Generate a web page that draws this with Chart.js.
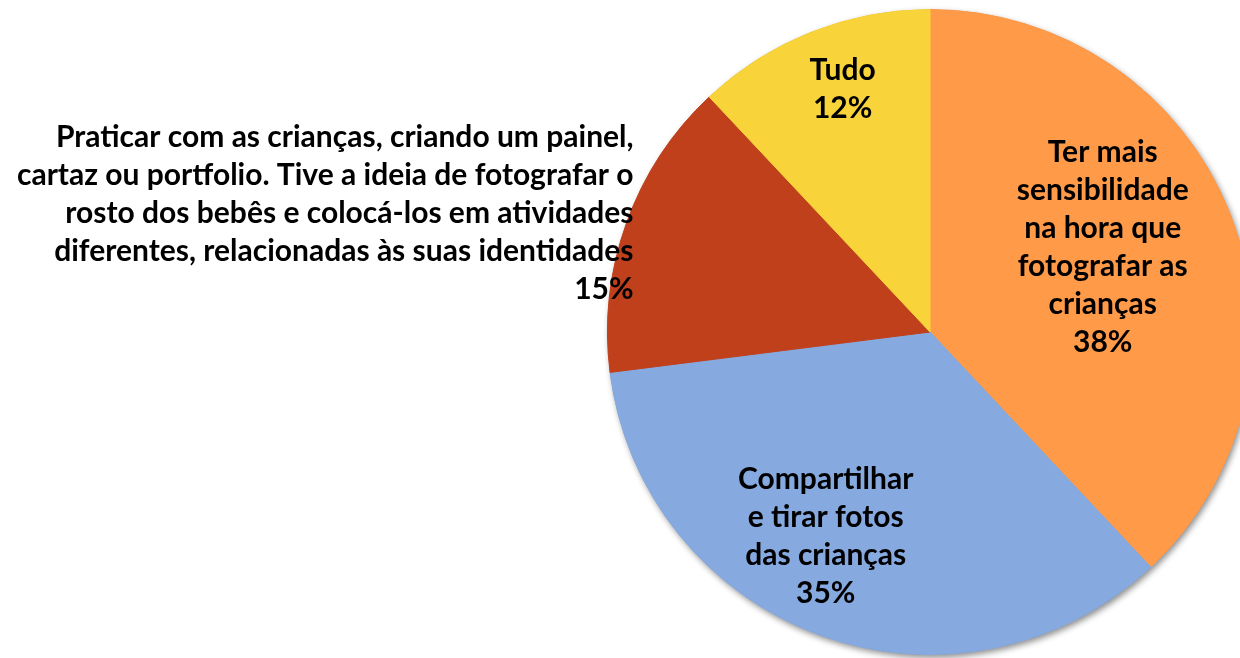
<!DOCTYPE html>
<html>
<head>
<meta charset="utf-8">
<script src="https://cdn.jsdelivr.net/npm/chart.js@4"></script>
<style>
  html, body { margin:0; padding:0; background:#fff; overflow:hidden; }
  #quadro { position:relative; width:1240px; height:658px; overflow:hidden; }
  #grafico { position:absolute; left:0; top:0; }
</style>
</head>
<body>
<div id="quadro">
  <canvas id="grafico" width="1300" height="680"></canvas>
</div>
<script>
// ===============================
// DADOS
// ===============================

const categorias = [
  ["Ter mais", "sensibilidade", "na hora que", "fotografar as", "crianças"],
  ["Compartilhar", "e tirar fotos", "das crianças"],
  ["Praticar com as crianças, criando um painel,",
   "cartaz ou portfolio. Tive a ideia de fotografar o",
   "rosto dos bebês e colocá-los em atividades",
   "diferentes, relacionadas às suas identidades"],
  ["Tudo"]
];

const valores = [38, 35, 15, 12];

const cores = ["#FF9A48", "#86A9E0", "#C0401C", "#F8D33A"];

// posição dos rótulos: fração do raio, desvio do ângulo (graus), alinhamento
const posRotulos = [
  { r: 0.597, desvio: -4.6, alinhar: "center" },
  { r: 0.71, desvio: 7.3, alinhar: "center" },
  { r: 0.99, desvio: 2.0, alinhar: "right" },
  { r: 0.80, desvio: 1.8, alinhar: "center" }
];

const fonteRotulo = "bold 30px Lato";
const alturaLinha = 38;

// ===============================
// PLUGINS
// ===============================

// sombra suave em volta da pizza
const sombraPizza = {
  id: "sombraPizza",
  beforeDatasetsDraw(chart){
    const arco = chart.getDatasetMeta(0).data[0];
    if(!arco) return;
    const ctx = chart.ctx;
    ctx.save();
    ctx.shadowColor = "rgba(0,0,0,0.45)";
    ctx.shadowBlur = 6;
    ctx.shadowOffsetX = 2;
    ctx.shadowOffsetY = 3;
    ctx.fillStyle = "#888";
    ctx.beginPath();
    ctx.arc(arco.x, arco.y, arco.outerRadius, 0, Math.PI * 2);
    ctx.fill();
    ctx.restore();
  }
};

// rótulos com nome e porcentagem
const rotulos = {
  id: "rotulos",
  afterDatasetsDraw(chart){
    const ctx = chart.ctx;
    const arcos = chart.getDatasetMeta(0).data;
    ctx.save();
    ctx.font = fonteRotulo;
    ctx.fillStyle = "#000";
    ctx.textBaseline = "middle";

    arcos.forEach((arco, i)=>{
      const p = posRotulos[i];
      const meio = (arco.startAngle + arco.endAngle) / 2 + p.desvio * Math.PI / 180;
      const raio = arco.outerRadius * p.r;
      const x = arco.x + Math.cos(meio) * raio;
      const y = arco.y + Math.sin(meio) * raio;

      const linhas = categorias[i].concat([valores[i] + "%"]);
      const topo = y - (linhas.length - 1) * alturaLinha / 2;

      ctx.textAlign = p.alinhar;
      linhas.forEach((linha, j)=>{
        ctx.fillText(linha, x, topo + j * alturaLinha);
      });
    });

    ctx.restore();
  }
};

// ===============================
// GRÁFICO
// ===============================

const ctx = document.getElementById("grafico").getContext("2d");

new Chart(ctx, {
  type: "pie",
  data: {
    labels: categorias.map(c => c.join(" ")),
    datasets: [{
      data: valores,
      backgroundColor: cores,
      borderColor: cores,
      borderWidth: 1,
      hoverOffset: 0
    }]
  },
  options: {
    responsive: false,
    animation: false,
    layout: {
      padding: { left: 607, top: 9, right: 47, bottom: 25 }
    },
    plugins: {
      legend: { display: false },
      tooltip: { enabled: false }
    }
  },
  plugins: [sombraPizza, rotulos]
});
</script>
</body>
</html>
